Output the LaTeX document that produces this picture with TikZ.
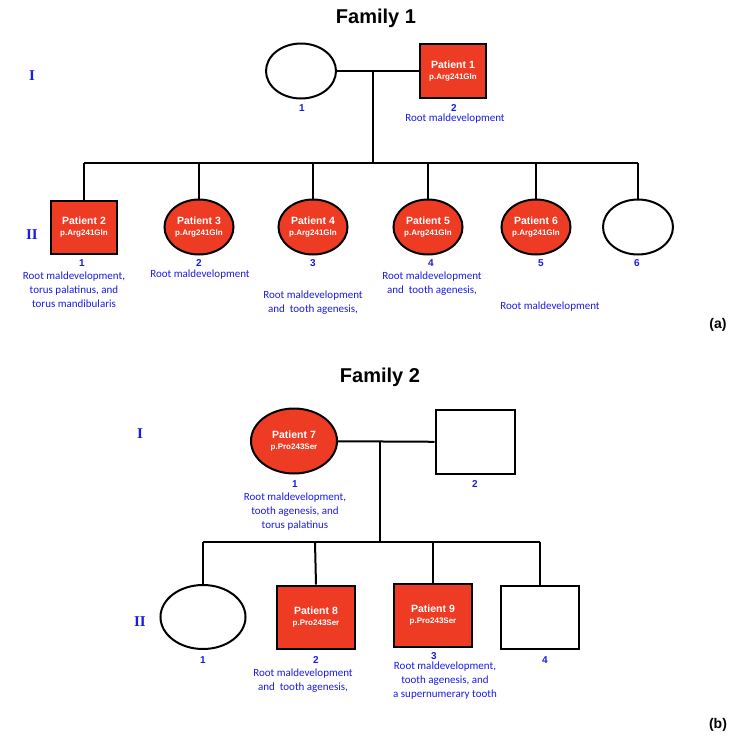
\documentclass[tikz,border=0pt]{standalone}
\usepackage{fontspec}
\usetikzlibrary{shapes.geometric}
\setmainfont{Liberation Sans}
\newfontfamily\carl{Carlito}
\newfontfamily\lserif{Liberation Serif}
\definecolor{pred}{HTML}{EE3B24}
\definecolor{tblue}{HTML}{1A1AE6}
\begin{document}
\begin{tikzpicture}[x=1pt,y=-1pt,
  ln/.style={line width=2pt,black},
  fem/.style={ellipse,draw=black,line width=2pt,inner sep=0pt},
  mal/.style={rectangle,draw=black,line width=2pt,inner sep=0pt},
  aff/.style={fill=pred,text=white,font=\bfseries,align=center},
  num/.style={text=tblue,font=\bfseries\fontsize{10}{11}\selectfont},
  desc/.style={text=tblue,font=\carl\fontsize{11}{14}\selectfont,align=center},
  gen/.style={text=tblue,font=\lserif\bfseries\fontsize{15}{16}\selectfont},
  ttl/.style={font=\bfseries\fontsize{20}{22}\selectfont},
  pl/.style={font=\bfseries\fontsize{14}{16}\selectfont}]
\useasboundingbox (0,0) rectangle (736,748);
\newcommand{\pat}[2]{{\fontsize{10.5}{12}\selectfont #1}\\[-1pt]{\fontsize{8}{10}\selectfont #2}}
% Family 1
\node[ttl] (t1) at (376,18) {Family 1};
\node[gen] (g1a) at (32,76) {I};
\node[gen] (g1b) at (32,235) {II};
\node[fem,minimum width=70pt,minimum height=55pt] (a1) at (301,71) {};
\node[mal,aff,minimum width=66pt,minimum height=54pt] (a2) at (453,71) {\pat{Patient 1}{p.Arg241Gln}};
\coordinate (ad) at (373,71);
\coordinate (as) at (373,163);
\coordinate (asl) at (84,163);
\coordinate (asr) at (638,163);
\draw[ln] (a1) -- (a2);
\draw[ln] (ad) -- (as);
\draw[ln] (asl) -- (asr);
\node[mal,aff,minimum width=66pt,minimum height=53pt] (b1) at (84,227) {\pat{Patient 2}{p.Arg241Gln}};
\node[fem,aff,minimum width=69pt,minimum height=55pt] (b2) at (199,227) {\pat{Patient 3}{p.Arg241Gln}};
\node[fem,aff,minimum width=69pt,minimum height=55pt] (b3) at (313,227) {\pat{Patient 4}{p.Arg241Gln}};
\node[fem,aff,minimum width=69pt,minimum height=55pt] (b4) at (428,227) {\pat{Patient 5}{p.Arg241Gln}};
\node[fem,aff,minimum width=69pt,minimum height=55pt] (b5) at (536,227) {\pat{Patient 6}{p.Arg241Gln}};
\node[fem,minimum width=70pt,minimum height=55pt] (b6) at (638,227) {};
\foreach \n/\x in {b1/84,b2/199,b3/313,b4/428,b5/536,b6/638}{
  \coordinate (top\n) at (\x,163);
  \draw[ln] (top\n) -- (\n.north);
}
\node[num] (na1) at (302,108) {1};
\node[num] (na2) at (454,108) {2};
\node[desc] (da2) at (455,119) {Root maldevelopment};
\node[num] (nb1) at (82,263) {1};
\node[num] (nb2) at (199,263) {2};
\node[num] (nb3) at (313,263) {3};
\node[num] (nb4) at (431,263) {4};
\node[num] (nb5) at (541,263) {5};
\node[num] (nb6) at (637,263) {6};
\node[desc,anchor=north] (db1) at (74,268) {Root maldevelopment,\\torus palatinus, and\\torus mandibularis};
\node[desc] (db2) at (200,275) {Root maldevelopment};
\node[desc,anchor=north] (db3) at (313,287) {Root maldevelopment\\and~ tooth agenesis,};
\node[desc,anchor=north] (db4) at (432,268) {Root maldevelopment\\and~ tooth agenesis,};
\node[desc] (db5) at (550,307) {Root maldevelopment};
\node[pl] (pa) at (718,325) {(a)};
% Family 2
\node[ttl] (t2) at (380,377) {Family 2};
\node[gen] (g2a) at (140,434) {I};
\node[gen] (g2b) at (140,622) {II};
\node[fem,aff,minimum width=86pt,minimum height=65pt] (c1) at (294,441) {\pat{Patient 7}{p.Pro243Ser}};
\node[mal,minimum width=79pt,minimum height=64pt] (c2) at (475,442) {};
\coordinate (cd) at (380,442);
\coordinate (cs) at (380,542);
\coordinate (csl) at (203,542);
\coordinate (csr) at (540,542);
\draw[ln] (c1) -- (c2);
\draw[ln] (cd) -- (cs);
\draw[ln] (csl) -- (csr);
\node[fem,minimum width=85pt,minimum height=64pt] (d1) at (203,617) {};
\node[mal,aff,minimum width=78pt,minimum height=63pt] (d2) at (316,617) {\pat{Patient 8}{p.Pro243Ser}};
\node[mal,aff,minimum width=78pt,minimum height=63pt] (d3) at (433,615) {\pat{Patient 9}{p.Pro243Ser}};
\node[mal,minimum width=78pt,minimum height=63pt] (d4) at (540,617) {};
\foreach \n/\x in {d1/203,d2/315,d3/433,d4/540}{
  \coordinate (top\n) at (\x,542);
  \draw[ln] (top\n) -- (\n.north);
}
\node[num] (nc1) at (295,484) {1};
\node[num] (nc2) at (475,484) {2};
\node[desc,anchor=north] (dc1) at (295,489) {Root maldevelopment,\\tooth agenesis, and\\torus palatinus};
\node[num] (nd1) at (203,660) {1};
\node[num] (nd2) at (316,660) {2};
\node[num] (nd3) at (434,656) {3};
\node[num] (nd4) at (545,660) {4};
\node[desc,anchor=north] (dd2) at (303,665) {Root maldevelopment\\and~ tooth agenesis,};
\node[desc,anchor=north] (dd3) at (445,658) {Root maldevelopment,\\tooth agenesis, and\\a supernumerary tooth};
\node[pl] (pb) at (718,725) {(b)};
\end{tikzpicture}
\end{document}
